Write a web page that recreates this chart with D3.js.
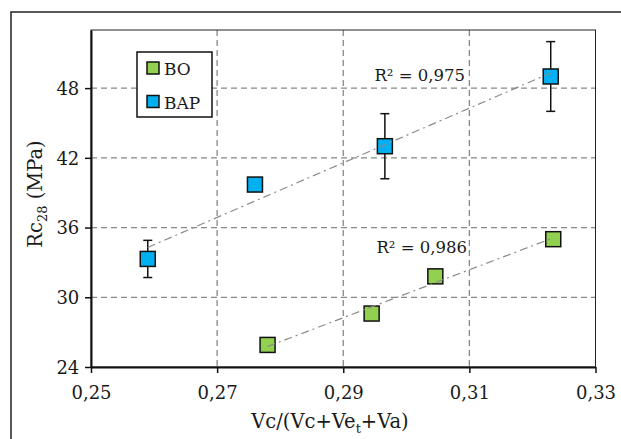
<!DOCTYPE html>
<html><head><meta charset="utf-8">
<script src="https://cdn.jsdelivr.net/npm/d3@7/dist/d3.min.js"></script>
<style>body{margin:0;background:#fff}svg{display:block}text{font-family:"DejaVu Serif",serif;fill:#1a1a1a}</style>
</head><body>
<svg id="c" width="621" height="439"></svg>
<script>
const xTicks = [0.25, 0.27, 0.29, 0.31, 0.33];
const yTicks = [24, 30, 36, 42, 48];
const boX = [0.278, 0.2945, 0.3046, 0.3233];
const boY = [25.9, 28.6, 31.8, 35.0];
const boErr = [0.3, 0.4, 0.3, 0.3];
const bapX = [0.259, 0.276, 0.2966, 0.3229];
const bapY = [33.3, 39.7, 43.0, 49.0];
const bapErr = [1.6, 0.4, 2.8, 3.0];
const seriesNames = ["BO", "BAP"];
const r2Labels = ["R² = 0,986", "R² = 0,975"];
const colors = ["#92D050", "#00B0F0"];

const svg = d3.select("#c");
const m = {l:91, t:30, r:595.5, b:367};
const x = d3.scaleLinear().domain([0.25, 0.33]).range([m.l, m.r]);
const y = d3.scaleLinear().domain([24, 53]).range([m.b, m.t]);

// outer frame
svg.append("rect").attr("x",11).attr("y",12).attr("width",700).attr("height",600)
  .attr("fill","none").attr("stroke","#222").attr("stroke-width",1.5);

// grid
const g = svg.append("g");
g.selectAll(".gx").data(xTicks.slice(1,-1)).enter().append("line")
  .attr("x1",d=>x(d)).attr("x2",d=>x(d)).attr("y1",m.t).attr("y2",m.b)
  .attr("stroke","#888").attr("stroke-width",1.3).attr("stroke-dasharray","6,4");
g.selectAll(".gy").data(yTicks.slice(1)).enter().append("line")
  .attr("y1",d=>y(d)).attr("y2",d=>y(d)).attr("x1",m.l).attr("x2",m.r)
  .attr("stroke","#888").attr("stroke-width",1.3).attr("stroke-dasharray","6,4");

// plot frame top/right
svg.append("rect").attr("x",m.l).attr("y",m.t).attr("width",m.r-m.l).attr("height",m.b-m.t)
  .attr("fill","none").attr("stroke","#222").attr("stroke-width",1);

// axes
const fmt = d => d3.format(".2f")(d).replace(".", ",");
const xa = svg.append("g").attr("transform",`translate(0,${m.b})`)
  .call(d3.axisBottom(x).tickValues(xTicks).tickFormat(fmt).tickSize(6).tickSizeOuter(0));
const ya = svg.append("g").attr("transform",`translate(${m.l},0)`)
  .call(d3.axisLeft(y).tickValues(yTicks).tickFormat(d=>d).tickSize(6).tickSizeOuter(0));
[xa,ya].forEach(a=>{
  a.select(".domain").attr("stroke","#111").attr("stroke-width",2);
  a.selectAll(".tick line").attr("stroke","#111").attr("stroke-width",1.5);
  a.selectAll("text").style("font-family","'DejaVu Serif',serif").style("font-size","18px").attr("fill","#1a1a1a");
});
xa.selectAll("text").attr("dy","1.3em");
ya.selectAll("text").attr("dx","-0.15em").attr("dy","0.35em");

// axis titles
svg.append("text").attr("transform","translate(42,194) rotate(-90)").attr("text-anchor","middle")
  .style("font-size","19.5px")
  .html('Rc<tspan font-size="13" dy="5">28</tspan><tspan dy="-5"> (MPa)</tspan>');
svg.append("text").attr("x",330).attr("y",428).attr("text-anchor","middle")
  .style("font-size","19.5px")
  .html('Vc/(Vc+Ve<tspan font-size="13" dy="5">t</tspan><tspan dy="-5">+Va)</tspan>');

// series
const series = [
  {xs:boX, ys:boY, es:boErr},
  {xs:bapX, ys:bapY, es:bapErr}
];
series.forEach((s,i)=>{
  const pts = s.xs.map((v,j)=>({x:v,y:s.ys[j],e:s.es[j]}));
  const mx = d3.mean(pts,d=>d.x), my = d3.mean(pts,d=>d.y);
  const slope = d3.sum(pts,d=>(d.x-mx)*(d.y-my))/d3.sum(pts,d=>(d.x-mx)**2);
  const x0 = d3.min(pts,d=>d.x), x1 = d3.max(pts,d=>d.x);
  const f = v => my + slope*(v-mx);
  const eg = svg.append("g");
  pts.forEach(p=>{
    eg.append("line").attr("x1",x(p.x)).attr("x2",x(p.x)).attr("y1",y(p.y+p.e)).attr("y2",y(p.y-p.e))
      .attr("stroke","#111").attr("stroke-width",1.5);
    [p.y+p.e,p.y-p.e].forEach(v=>eg.append("line").attr("x1",x(p.x)-4.5).attr("x2",x(p.x)+4.5)
      .attr("y1",y(v)).attr("y2",y(v)).attr("stroke","#111").attr("stroke-width",1.5));
  });
  svg.append("g").selectAll("rect").data(pts).enter().append("rect")
    .attr("x",d=>x(d.x)-7.5).attr("y",d=>y(d.y)-7.5).attr("width",15).attr("height",15)
    .attr("fill",colors[i]).attr("stroke","#111").attr("stroke-width",1.5);
  svg.append("line").attr("x1",x(x0)).attr("y1",y(f(x0))).attr("x2",x(x1)).attr("y2",y(f(x1)))
    .attr("stroke","#8a8a8a").attr("stroke-width",1.2).attr("stroke-dasharray","8,4,2,4");
});

// R² labels
svg.append("text").attr("x",467).attr("y",253).attr("text-anchor","end").style("font-size","16.5px").text(r2Labels[0]);
svg.append("text").attr("x",465).attr("y",81).attr("text-anchor","end").style("font-size","16.5px").text(r2Labels[1]);

// legend
const lg = svg.append("g");
lg.append("rect").attr("x",137).attr("y",52).attr("width",75).attr("height",65)
  .attr("fill","#fff").attr("stroke","#111").attr("stroke-width",1.5);
seriesNames.forEach((n,i)=>{
  lg.append("rect").attr("x",147).attr("y",62+i*33.5).attr("width",12).attr("height",12)
    .attr("fill",colors[i]).attr("stroke","#111").attr("stroke-width",1.5);
  lg.append("text").attr("x",164).attr("y",75+i*33.5).style("font-size","17px").text(n);
});
</script>
</body></html>
